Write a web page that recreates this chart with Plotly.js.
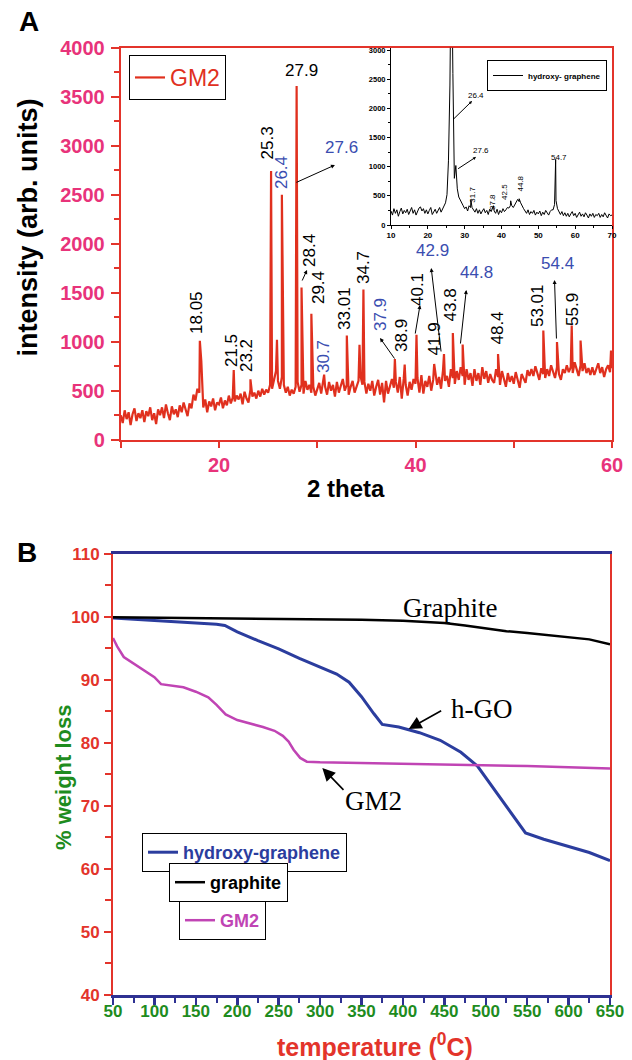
<!DOCTYPE html>
<html><head><meta charset="utf-8">
<script src="https://cdn.plot.ly/plotly-3.0.1.min.js"></script>
<style>html,body{margin:0;padding:0;background:#fff}#chart{width:632px;height:1060px}</style>
</head><body><div id="chart"></div>
<script>
// ---------- Panel A : XRD of GM2 (2-theta grid 10..60, step 0.2) ----------
const xrdStart = 10, xrdStep = 0.2;
const xrdGM2 = [
 250,170,300,210,280,150,260,320,190,270,
 220,300,180,290,240,330,200,270,160,310,
 250,330,220,360,270,200,340,260,310,230,
 350,280,380,300,240,370,320,460,400,520,
 480,800,330,410,280,390,340,420,300,380,
 360,430,320,400,350,450,370,430,390,450,
 410,470,360,490,420,380,510,440,480,420,
 500,440,520,460,510,480,560,520,620,700,
 600,520,640,560,480,540,450,510,470,540,
 590,490,560,470,600,510,560,480,540,450,
 510,580,470,600,540,460,590,500,560,440,
 590,480,550,620,500,560,460,540,600,480,
 530,600,650,560,590,470,570,500,600,450,
 540,610,460,580,380,600,470,560,620,530,
 590,480,640,420,620,560,450,590,510,620,
 570,630,480,660,470,600,540,650,500,610,
 690,560,640,520,710,600,650,540,720,630,
 570,700,610,740,650,560,720,610,680,550,
 720,600,680,560,740,620,700,580,670,610,
 580,720,640,560,700,610,540,680,590,650,
 570,690,610,530,670,620,580,710,650,720,
 650,750,680,610,730,670,630,720,650,760,
 690,630,740,670,610,720,680,760,690,740,
 680,790,720,650,760,700,780,680,730,660,
 740,660,720,780,680,740,640,720,760,690,
 730];
// sharp reflections of GM2
const xrdPeakPos = [18.05,21.5,23.2,25.3,25.9,26.4,27.9,28.4,29.4,30.7,33.01,34.3,34.7,37.9,38.9,40.1,41.9,42.9,43.8,44.8,48.4,53.01,54.4,55.9,56.8,59.9];
const xrdPeakInt = [1010,711,616,2742,1019,2500,3610,1553,1286,664,1064,968,1533,824,766,1070,773,875,1088,971,875,1115,996,1166,1012,910];

// ---------- Inset : XRD of hydroxy-graphene (grid 10..70, step 0.4) ----------
const insetStart = 10, insetStep = 0.4;
const xrdHG = [
 240,170,280,200,260,150,230,290,190,250,
 210,270,180,250,300,200,260,170,240,290,
 310,240,280,200,260,190,250,300,180,240,
 270,200,250,300,220,280,330,380,520,1100,
 2400,5000,2600,800,1020,620,480,420,360,330,
 280,310,240,330,300,300,250,220,280,200,
 260,190,240,280,210,250,180,270,230,300,
 240,200,270,180,250,210,280,230,260,300,
 290,330,330,300,350,400,440,400,380,320,
 280,240,200,260,180,230,200,250,170,220,
 190,240,160,220,180,250,200,170,230,260,
 260,350,420,280,220,180,230,160,210,150,
 200,140,190,230,160,200,130,180,220,150,
 190,140,210,170,120,190,150,200,130,180,
 160,200,130,180,140,210,150,120,190,160,
 170];
const insetPeakPos = [31.7,37.8,42.5,44.8,54.7];
const insetPeakInt = [430,330,415,450,1125];

// ---------- Panel B : TGA ----------
const tgaHgoT = [50,75,100,125,150,175,185,200,225,250,275,300,320,335,350,365,375,395,420,445,470,490,510,530,548,570,600,625,650];
const tgaHgoW = [99.8,99.6,99.3,99.1,98.9,98.8,98.6,97.6,96.2,94.9,93.4,92.0,90.9,89.6,87.3,84.6,82.9,82.5,81.6,80.4,78.5,76.3,72.6,68.9,65.7,64.7,63.6,62.6,61.3];
const tgaGraphiteT = [50,100,150,200,250,300,350,400,425,450,475,500,525,550,575,600,625,650];
const tgaGraphiteW = [99.9,99.85,99.8,99.75,99.7,99.6,99.5,99.35,99.2,99.0,98.6,98.1,97.7,97.4,97.1,96.8,96.4,95.6];
const tgaGM2T = [50,55,63,75,85,100,108,120,135,150,165,175,186,200,215,231,245,255,262,268,276,284,300,350,400,450,500,550,600,650];
const tgaGM2W = [96.6,95.3,93.6,92.6,91.7,90.4,89.3,89.1,88.8,88.1,87.2,86.0,84.5,83.6,83.1,82.5,81.9,81.1,80.2,78.9,77.6,77.0,76.9,76.8,76.6,76.5,76.4,76.3,76.1,75.9];

function buildSeries(start, step, vals, pPos, pInt) {
  const pts = vals.map((v, i) => [+(start + i * step).toFixed(2), v]);
  pPos.forEach((p, i) => pts.push([p, pInt[i]]));
  pts.sort((a, b) => a[0] - b[0]);
  return {x: pts.map(p => p[0]), y: pts.map(p => p[1])};
}
const sA = buildSeries(xrdStart, xrdStep, xrdGM2, xrdPeakPos, xrdPeakInt);
const sI = buildSeries(insetStart, insetStep, xrdHG, insetPeakPos, insetPeakInt);

const F = 'Liberation Sans, Arial, sans-serif';
const SERIF = 'Liberation Serif, Times New Roman, serif';
const RED = '#e3342b', PINK = '#e8337a', NAVY = '#2e3192', GREEN = '#1e8c1e';
const BLUE_TXT = '#3a4db0', MAG = '#c044b4', BLUE = '#2b3d9e';

const traces = [
  {x: sA.x, y: sA.y, xaxis: 'x', yaxis: 'y', type: 'scatter', mode: 'lines', name: 'GM2',
   line: {color: '#e0301e', width: 2.2}, legend: 'legend'},
  {x: sI.x, y: sI.y, xaxis: 'x2', yaxis: 'y2', type: 'scatter', mode: 'lines', name: 'hydroxy- graphene',
   line: {color: '#000', width: 1}, legend: 'legend2'},
  {x: tgaHgoT, y: tgaHgoW, xaxis: 'x3', yaxis: 'y3', type: 'scatter', mode: 'lines', name: 'hydroxy-graphene',
   line: {color: BLUE, width: 3}, legend: 'legend3'},
  {x: tgaGraphiteT, y: tgaGraphiteW, xaxis: 'x3', yaxis: 'y3', type: 'scatter', mode: 'lines', name: 'graphite',
   line: {color: '#000', width: 2.5}, legend: 'legend4'},
  {x: tgaGM2T, y: tgaGM2W, xaxis: 'x3', yaxis: 'y3', type: 'scatter', mode: 'lines', name: 'GM2',
   line: {color: MAG, width: 2.5}, legend: 'legend5'}
];

function px(x) { return x / 632; }
function py(y) { return 1 - y / 1060; }

const ann = [];
function lab(t, x, y, rot, col, xr, yr, size) {
  ann.push({text: t, x: x, y: y, xref: xr || 'x', yref: yr || 'y', showarrow: false,
    textangle: rot ? -90 : 0, xanchor: 'center', yanchor: 'middle',
    font: {family: F, size: size || 17, color: col || '#000'}});
}
function arr(hx, hy, tx, ty, xr, yr, size, w) {
  ann.push({text: '', x: hx, y: hy, ax: tx, ay: ty, xref: xr, yref: yr, axref: xr, ayref: yr,
    showarrow: true, arrowhead: 2, arrowsize: size, arrowwidth: w, arrowcolor: '#000'});
}
function title(t, x, y, rot, size, col) {
  ann.push({text: t, x: px(x), y: py(y), xref: 'paper', yref: 'paper', showarrow: false,
    textangle: rot ? -90 : 0, xanchor: 'center', yanchor: 'middle',
    font: {family: F, size: size, color: col}});
}
// Panel A peak labels
lab('27.9', 28.35, 3772, 0);
lab('27.6', 32.42, 2985, 0, BLUE_TXT);
lab('42.9', 41.68, 1926, 0, BLUE_TXT);
lab('44.8', 46.16, 1711, 0, BLUE_TXT);
lab('54.4', 54.5, 1793, 0, BLUE_TXT);
lab('25.3', 24.94, 3028, 1);
lab('26.4', 26.31, 2721, 1, BLUE_TXT);
lab('28.4', 29.26, 1936, 1);
lab('29.4', 30.08, 1548, 1);
lab('30.7', 30.69, 844, 1, BLUE_TXT);
lab('33.01', 32.82, 1344, 1);
lab('34.7', 34.66, 1752, 1);
lab('37.9', 36.39, 1272, 1, BLUE_TXT);
lab('38.9', 38.52, 1068, 1);
lab('40.1', 40.26, 1528, 1);
lab('41.9', 41.93, 1028, 1);
lab('43.8', 43.56, 1375, 1);
lab('48.4', 48.35, 1140, 1);
lab('53.01', 52.37, 1364, 1);
lab('55.9', 56.03, 1334, 1);
lab('21.5', 21.22, 915, 1);
lab('23.2', 22.75, 854, 1);
lab('18.05', 17.71, 1298, 1);
arr(31.8, 2803, 27.73, 2619, 'x', 'y', 0.8, 1);
arr(28.96, 1732, 28.4, 1609, 'x', 'y', 0.8, 1);
arr(36.39, 1038, 37.97, 813, 'x', 'y', 0.8, 1);
arr(40.46, 1374, 39.95, 1068, 'x', 'y', 0.8, 1);
arr(41.6, 1752, 42.62, 885, 'x', 'y', 0.8, 1);
arr(45.17, 1528, 44.56, 966, 'x', 'y', 0.8, 1);
arr(54.15, 1629, 54.35, 1017, 'x', 'y', 0.8, 1);
// Inset labels
lab('26.4', 33.08, 2229, 0, '#000', 'x2', 'y2', 8);
lab('27.6', 34.44, 1286, 0, '#000', 'x2', 'y2', 8);
lab('31.7', 31.91, 514, 1, '#000', 'x2', 'y2', 8);
lab('37.8', 37.42, 394, 1, '#000', 'x2', 'y2', 8);
lab('42.5', 40.95, 566, 1, '#000', 'x2', 'y2', 8);
lab('44.8', 44.89, 703, 1, '#000', 'x2', 'y2', 8);
lab('54.7', 55.6, 1149, 0, '#000', 'x2', 'y2', 8);
arr(32.0, 2126, 26.43, 1783, 'x2', 'y2', 0.6, 1);
arr(33.08, 1166, 27.81, 948, 'x2', 'y2', 0.6, 1);
// Panel B labels
ann.push({text: 'Graphite', x: 457, y: 101.3, xref: 'x3', yref: 'y3', showarrow: false, font: {family: SERIF, size: 27, color: '#000'}});
ann.push({text: 'h-GO', x: 495.5, y: 85.3, xref: 'x3', yref: 'y3', showarrow: false, font: {family: SERIF, size: 27, color: '#000'}});
ann.push({text: 'GM2', x: 364, y: 70.7, xref: 'x3', yref: 'y3', showarrow: false, font: {family: SERIF, size: 27, color: '#000'}});
arr(407, 82.2, 448, 85.2, 'x3', 'y3', 1.6, 1.6);
arr(302.7, 76.0, 330, 72.3, 'x3', 'y3', 1.6, 1.6);
// axis titles and panel letters
title('<b>intensity (arb. units)</b>', 27.5, 228, 1, 27, '#000');
title('<b>2 theta</b>', 346, 489, 0, 24, '#000');
title('<b>% weight loss</b>', 63, 778, 1, 22, GREEN);
title('<b>temperature (<sup>0</sup>C)</b>', 375, 1045, 0, 25, RED);
title('<b>A</b>', 29, 22, 0, 28, '#000');
title('<b>B</b>', 27, 552, 0, 28, '#000');

const legBase = {xanchor: 'left', yanchor: 'top', bgcolor: '#fff', bordercolor: '#000', borderwidth: 1, itemwidth: 30};

const layout = {
  width: 632, height: 1060, margin: {l: 0, r: 0, t: 0, b: 0},
  paper_bgcolor: '#fff', plot_bgcolor: 'rgba(0,0,0,0)',
  font: {family: F},
  xaxis: {domain: [px(120.75), px(612)], anchor: 'y', range: [10, 60], tick0: 0, dtick: 20,
    showline: true, linecolor: RED, linewidth: 2, mirror: true, zeroline: false, showgrid: false,
    ticks: 'outside', ticklen: 6, tickwidth: 2, tickcolor: RED, ticklabelstandoff: 0,
    minor: {dtick: 10, ticks: 'outside', ticklen: 6, tickwidth: 2, tickcolor: RED, showgrid: false},
    tickfont: {family: F, size: 20, color: PINK, weight: 'bold'}},
  yaxis: {domain: [py(439.7), py(47.7)], anchor: 'x', range: [0, 4000], dtick: 500,
    showline: true, linecolor: RED, linewidth: 2, mirror: true, zeroline: false, showgrid: false,
    ticks: 'outside', ticklen: 8, tickwidth: 2, tickcolor: RED, ticklabelstandoff: 2,
    minor: {dtick: 250, ticks: 'outside', ticklen: 5, tickwidth: 2, tickcolor: RED, showgrid: false},
    tickfont: {family: F, size: 20, color: PINK, weight: 'bold'}},
  xaxis2: {domain: [px(391), px(612)], anchor: 'y2', range: [10, 70], tick0: 10, dtick: 10,
    showline: true, linecolor: '#000', linewidth: 1, zeroline: false, showgrid: false,
    ticks: 'outside', ticklen: 3, tickwidth: 1, tickcolor: '#000', ticklabelstandoff: -1,
    minor: {dtick: 5, ticks: 'outside', ticklen: 2, tickwidth: 1, tickcolor: '#000', showgrid: false},
    tickfont: {family: F, size: 8, color: '#000', weight: 'bold'}},
  yaxis2: {domain: [py(225), py(47.7)], anchor: 'x2', range: [0, 3040], dtick: 500,
    showline: true, linecolor: '#000', linewidth: 1, zeroline: false, showgrid: false,
    ticks: 'outside', ticklen: 3, tickwidth: 1, tickcolor: '#000', ticklabelstandoff: 0,
    minor: {dtick: 250, ticks: 'outside', ticklen: 2, tickwidth: 1, tickcolor: '#000', showgrid: false},
    tickfont: {family: F, size: 7.5, color: '#000', weight: 'bold'}},
  xaxis3: {domain: [px(113), px(610)], anchor: 'y3', range: [50, 650], tick0: 50, dtick: 50,
    showline: true, linecolor: NAVY, linewidth: 2.5, mirror: true, zeroline: false, showgrid: false,
    ticks: 'outside', ticklen: 7, tickwidth: 2.5, tickcolor: NAVY, ticklabelstandoff: -8,
    minor: {dtick: 25, ticks: 'outside', ticklen: 5, tickwidth: 2, tickcolor: NAVY, showgrid: false},
    tickfont: {family: F, size: 17, color: GREEN, weight: 'bold'}},
  yaxis3: {domain: [py(995), py(553.6)], anchor: 'x3', range: [40, 110], dtick: 10,
    showline: true, linecolor: RED, linewidth: 2, mirror: true, zeroline: false, showgrid: false,
    ticks: 'outside', ticklen: 7, tickwidth: 2, tickcolor: RED, ticklabelstandoff: 1,
    minor: {dtick: 5, ticks: 'outside', ticklen: 6, tickwidth: 2, tickcolor: RED, showgrid: false},
    tickfont: {family: F, size: 17, color: RED, weight: 'bold'}},
  legend: Object.assign({}, legBase, {x: px(129), y: py(55), font: {family: F, size: 23, color: '#e0301e'}}),
  legend2: Object.assign({}, legBase, {x: px(487), y: py(60), font: {family: F, size: 8, color: '#000', weight: 'bold'}}),
  legend3: Object.assign({}, legBase, {x: px(142), y: py(833), font: {family: F, size: 18, color: BLUE, weight: 'bold'}}),
  legend4: Object.assign({}, legBase, {x: px(169), y: py(863), font: {family: F, size: 18, color: '#000', weight: 'bold'}}),
  legend5: Object.assign({}, legBase, {x: px(179), y: py(901), font: {family: F, size: 18, color: MAG, weight: 'bold'}}),
  showlegend: true,
  annotations: ann
};
Plotly.newPlot('chart', traces, layout, {displayModeBar: false, staticPlot: true});
</script></body></html>
